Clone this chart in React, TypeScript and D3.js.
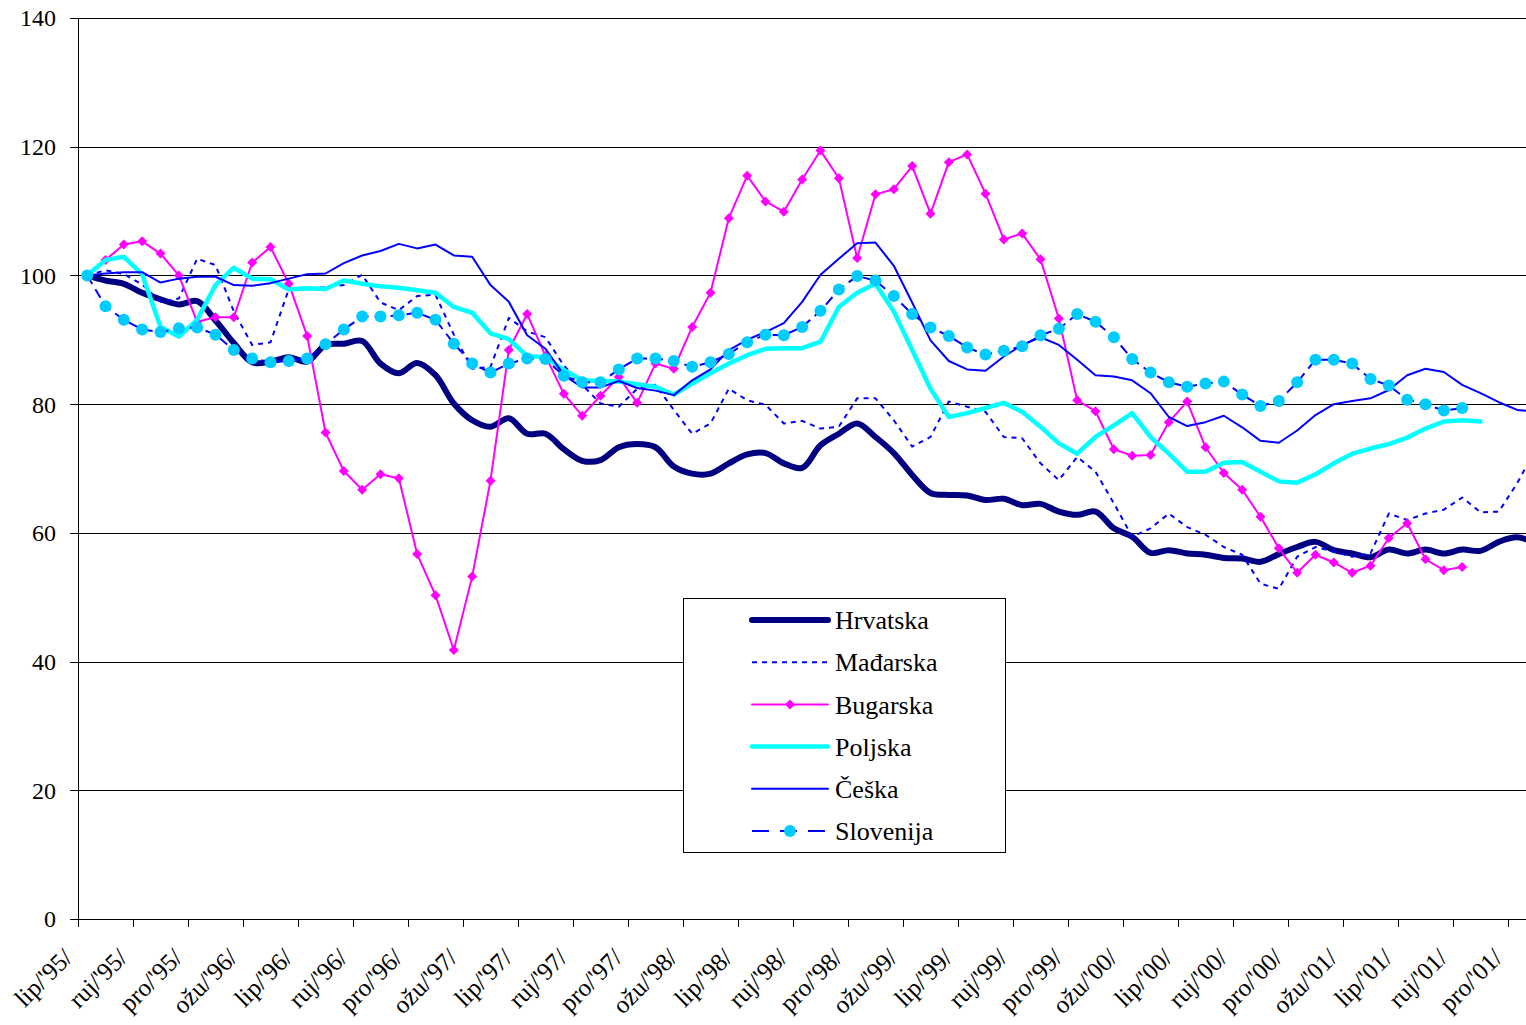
import React from 'react';
import * as d3 from 'd3';

// monthly index values, lip/'95 = 100
const hrvatska = [
  100, 99.2, 98.7, 97.3, 96.3, 95.5, 96.0, 93.0, 89.5, 86.5,
  86.6, 87.3, 86.6, 89.2, 89.4, 89.8, 86.3, 84.8, 86.4, 84.5,
  80.1, 77.5, 76.5, 77.8, 75.4, 75.4, 73.0, 71.2, 71.3, 73.3,
  73.8, 73.3, 70.3, 69.2, 69.2, 70.8, 72.2, 72.4, 70.8, 70.1,
  73.6, 75.4, 77.0, 74.9, 72.4, 69.0, 66.2, 65.9, 65.8, 65.1,
  65.3, 64.3, 64.5, 63.3, 62.8, 63.3, 60.7, 59.4, 56.9, 57.3,
  56.8, 56.6, 56.1, 56.0, 55.5, 56.7, 57.8, 58.6, 57.3, 56.8,
  56.2, 57.4, 56.8, 57.4, 56.8, 57.4, 57.2, 58.6, 59.3, 58.4,
];
const madarska = [
  100, 100.8, 100.2, 98.6, 95.9, 96.4, 102.6, 101.6, 94.4, 89.2,
  89.6, 97.9, 97.8, 98.2, 98.5, 100.1, 95.8, 94.6, 96.8, 97.0,
  90.8, 85.5, 85.8, 93.4, 91.3, 90.4, 86.0, 83.0, 80.1, 79.6,
  82.4, 83.0, 79.1, 75.4, 77.0, 82.4, 80.6, 79.9, 77.0, 77.4,
  76.2, 76.5, 80.9, 80.9, 77.5, 73.4, 74.9, 80.4, 79.6, 78.8,
  74.9, 74.7, 70.8, 68.2, 71.8, 69.5, 64.6, 59.4, 60.7, 63.0,
  60.9, 59.7, 57.8, 56.6, 52.1, 51.3, 56.3, 57.8, 57.1, 56.3,
  56.8, 63.0, 62.0, 63.0, 63.6, 65.5, 63.2, 63.3, 67.7, 73.0,
];
const bugarska = [
  100, 102.4, 104.8, 105.3, 103.4, 100, 92.8, 93.5, 93.5, 102,
  104.4, 98.7, 90.6, 75.6, 69.6, 66.7, 69.1, 68.5, 56.7, 50.3,
  41.8, 53.2, 68.1, 88.4, 94.0, 87.5, 81.6, 78.2, 81.3, 84.2,
  80.2, 86.3, 85.5, 92.0, 97.3, 108.9, 115.5, 111.5, 109.9, 114.9,
  119.4, 115.1, 102.7, 112.6, 113.4, 117.0, 109.6, 117.6, 118.8, 112.7,
  105.6, 106.5, 102.5, 93.3, 80.6, 78.9, 73.0, 72.0, 72.1, 77.2,
  80.4, 73.3, 69.3, 66.7, 62.5, 57.6, 53.8, 56.6, 55.4, 53.8,
  54.9, 59.2, 61.5, 55.9, 54.2, 54.7,
];
const poljska = [
  100, 102.4, 102.9, 100.2, 92.0, 90.5, 93.1, 98.5, 101.2, 99.5,
  99.4, 97.8, 98.0, 97.9, 99.2, 98.7, 98.3, 98.1, 97.7, 97.3,
  95.1, 94.2, 91.0, 90.1, 87.5, 87.3, 85.3, 83.7, 83.6, 83.5,
  83.1, 82.7, 81.5, 83.2, 84.8, 86.3, 87.6, 88.6, 88.7, 88.7,
  89.7, 95.1, 97.3, 98.7, 94.4, 88.4, 82.4, 78.0, 78.6, 79.4,
  80.2, 78.8, 76.5, 73.9, 72.3, 74.9, 76.7, 78.6, 74.9, 72.3,
  69.5, 69.5, 70.9, 71.0, 69.5, 68.0, 67.8, 69.1, 70.8, 72.3,
  73.1, 73.8, 74.8, 76.2, 77.3, 77.5, 77.3,
];
const ceska = [
  100, 100.3, 100.5, 100.5, 98.9, 99.5, 99.8, 99.8, 98.5, 98.4,
  98.8, 99.5, 100.2, 100.3, 101.9, 103.1, 103.8, 104.9, 104.2, 104.8,
  103.1, 102.9, 98.5, 95.9, 90.7, 88.6, 84.5, 82.6, 82.6, 83.6,
  82.5, 82.1, 81.4, 83.7, 85.4, 88.4, 90.0, 91.2, 92.6, 95.9,
  100.1, 102.6, 105.0, 105.1, 101.5, 95.8, 89.9, 86.7, 85.4, 85.2,
  87.4, 89.2, 90.4, 89.2, 86.9, 84.5, 84.3, 83.7, 81.7, 78.0,
  76.6, 77.2, 78.2, 76.4, 74.3, 74.0, 75.9, 78.3, 80.0, 80.5,
  80.9, 82.2, 84.5, 85.5, 85.0, 83.0, 81.7, 80.3, 79.1, 78.8,
];
const slovenija = [
  100, 95.2, 93.1, 91.6, 91.2, 91.8, 91.9, 90.8, 88.4, 87.1,
  86.5, 86.7, 87.1, 89.3, 91.6, 93.6, 93.6, 93.8, 94.2, 93.1,
  89.4, 86.3, 84.9, 86.3, 87.1, 87.0, 84.4, 83.4, 83.4, 85.4,
  87.1, 87.1, 86.7, 85.8, 86.5, 87.8, 89.6, 90.8, 90.7, 92.0,
  94.5, 97.8, 99.9, 99.2, 96.8, 94.0, 91.9, 90.6, 88.8, 87.7,
  88.3, 89.0, 90.7, 91.7, 94.0, 92.8, 90.4, 87.0, 84.9, 83.4,
  82.7, 83.2, 83.5, 81.5, 79.7, 80.5, 83.4, 86.9, 86.9, 86.3,
  83.9, 82.9, 80.7, 80.0, 79.0, 79.4,
];

const tickLabels = [
  "lip/'95/", "ruj/'95/", "pro/'95/", "ožu/'96/", "lip/'96/", "ruj/'96/", "pro/'96/",
  "ožu/'97/", "lip/'97/", "ruj/'97/", "pro/'97/", "ožu/'98/", "lip/'98/", "ruj/'98/",
  "pro/'98/", "ožu/'99/", "lip/'99/", "ruj/'99/", "pro/'99/", "ožu/'00/", "lip/'00/",
  "ruj/'00/", "pro/'00/", "ožu/'01/", "lip/'01/", "ruj/'01/", "pro/'01/",
];
const yTicks = [0, 20, 40, 60, 80, 100, 120, 140];

const series = [
  { name: 'Hrvatska', data: hrvatska, color: '#000080', width: 6, dash: null, smooth: true, marker: null },
  { name: 'Mađarska', data: madarska, color: '#0000FF', width: 2, dash: '5,5', smooth: false, marker: null },
  { name: 'Bugarska', data: bugarska, color: '#FF00FF', width: 2, dash: null, smooth: false, marker: 'diamond' },
  { name: 'Poljska', data: poljska, color: '#00FFFF', width: 4.5, dash: null, smooth: false, marker: null },
  { name: 'Češka', data: ceska, color: '#0000FF', width: 2, dash: null, smooth: false, marker: null },
  { name: 'Slovenija', data: slovenija, color: '#0000FF', width: 2, dash: '10,6', smooth: false, marker: 'circle' },
];

const W = 1526;
const H = 1025;
const left = 78;
const top = 18;
const bottom = 919;
const nCat = 80;
const catW = 55 / 3;
const font = '"Liberation Serif", "Times New Roman", serif';

function Marker({ kind, x, y }: { kind: string | null; x: number; y: number }) {
  if (kind === 'diamond') {
    const s = 5;
    return <path d={`M${x},${y - s}L${x + s},${y}L${x},${y + s}L${x - s},${y}Z`} fill="#FF00FF" />;
  }
  if (kind === 'circle') {
    return <circle cx={x} cy={y} r={6} fill="#00CCFF" />;
  }
  return null;
}

export default function App() {
  const x = d3.scaleBand<number>().domain(d3.range(nCat)).range([left, left + nCat * catW]);
  const cx = (i: number) => (x(i) as number) + x.bandwidth() / 2;
  const y = d3.scaleLinear().domain([0, 140]).range([bottom, top]);

  const lineFor = (smooth: boolean) =>
    d3.line<number>()
      .x((_, i) => cx(i))
      .y((d) => y(d))
      .curve(smooth ? d3.curveCatmullRom.alpha(0.5) : d3.curveLinear);

  const legendX = 683;
  const legendY = 598;
  const rowH = 42.2;

  return (
    <>
      <style>{'body{margin:0;overflow:hidden}'}</style>
      <svg width={W} height={H} style={{ display: 'block', background: '#fff' }} fontFamily={font}>
        {/* gridlines */}
        {yTicks.filter((t) => t > 0).map((t) => (
          <line key={t} x1={left} x2={W} y1={Math.round(y(t)) + 0.5} y2={Math.round(y(t)) + 0.5} stroke="#000" strokeWidth={1} />
        ))}

        {/* series */}
        {series.map((s) => (
          <g key={s.name}>
            <path
              d={lineFor(s.smooth)(s.data) || ''}
              fill="none"
              stroke={s.color}
              strokeWidth={s.width}
              strokeDasharray={s.dash || undefined}
              strokeLinejoin="round"
              strokeLinecap={s.dash ? 'butt' : 'round'}
            />
            {s.marker && s.data.map((v, i) => <Marker key={i} kind={s.marker} x={cx(i)} y={y(v)} />)}
          </g>
        ))}

        {/* axes */}
        <line x1={left + 0.5} x2={left + 0.5} y1={top} y2={bottom} stroke="#000" strokeWidth={1} />
        <line x1={left} x2={W} y1={bottom + 0.5} y2={bottom + 0.5} stroke="#000" strokeWidth={1} />
        {yTicks.map((t) => (
          <g key={t}>
            <line x1={left - 8} x2={left} y1={Math.round(y(t)) + 0.5} y2={Math.round(y(t)) + 0.5} stroke="#000" />
            <text x={56} y={y(t)} dy="0.35em" textAnchor="end" fontSize={24} fill="#000">{t}</text>
          </g>
        ))}
        {tickLabels.map((lab, k) => {
          const tx = x(k * 3) as number;
          return (
            <g key={lab}>
              <line x1={Math.round(tx) + 0.5} x2={Math.round(tx) + 0.5} y1={bottom} y2={bottom + 8} stroke="#000" />
              <text
                transform={`translate(${tx - 4},${bottom + 40}) rotate(-45)`}
                textAnchor="end"
                fontSize={25}
                fill="#000"
              >
                {lab}
              </text>
            </g>
          );
        })}

        {/* legend */}
        <rect x={legendX + 0.5} y={legendY + 0.5} width={322} height={254} fill="#fff" stroke="#000" strokeWidth={1} />
        {series.map((s, i) => {
          const ly = legendY + 22 + i * rowH;
          return (
            <g key={s.name}>
              <line
                x1={752}
                x2={828}
                y1={ly}
                y2={ly}
                stroke={s.color}
                strokeWidth={s.width}
                strokeDasharray={s.name === 'Slovenija' ? '17,11' : s.dash || undefined}
                strokeLinecap={s.dash ? 'butt' : 'round'}
              />
              <Marker kind={s.marker} x={790} y={ly} />
              <text x={835} y={ly} dy="0.35em" fontSize={26} fill="#000">{s.name}</text>
            </g>
          );
        })}
      </svg>
    </>
  );
}
